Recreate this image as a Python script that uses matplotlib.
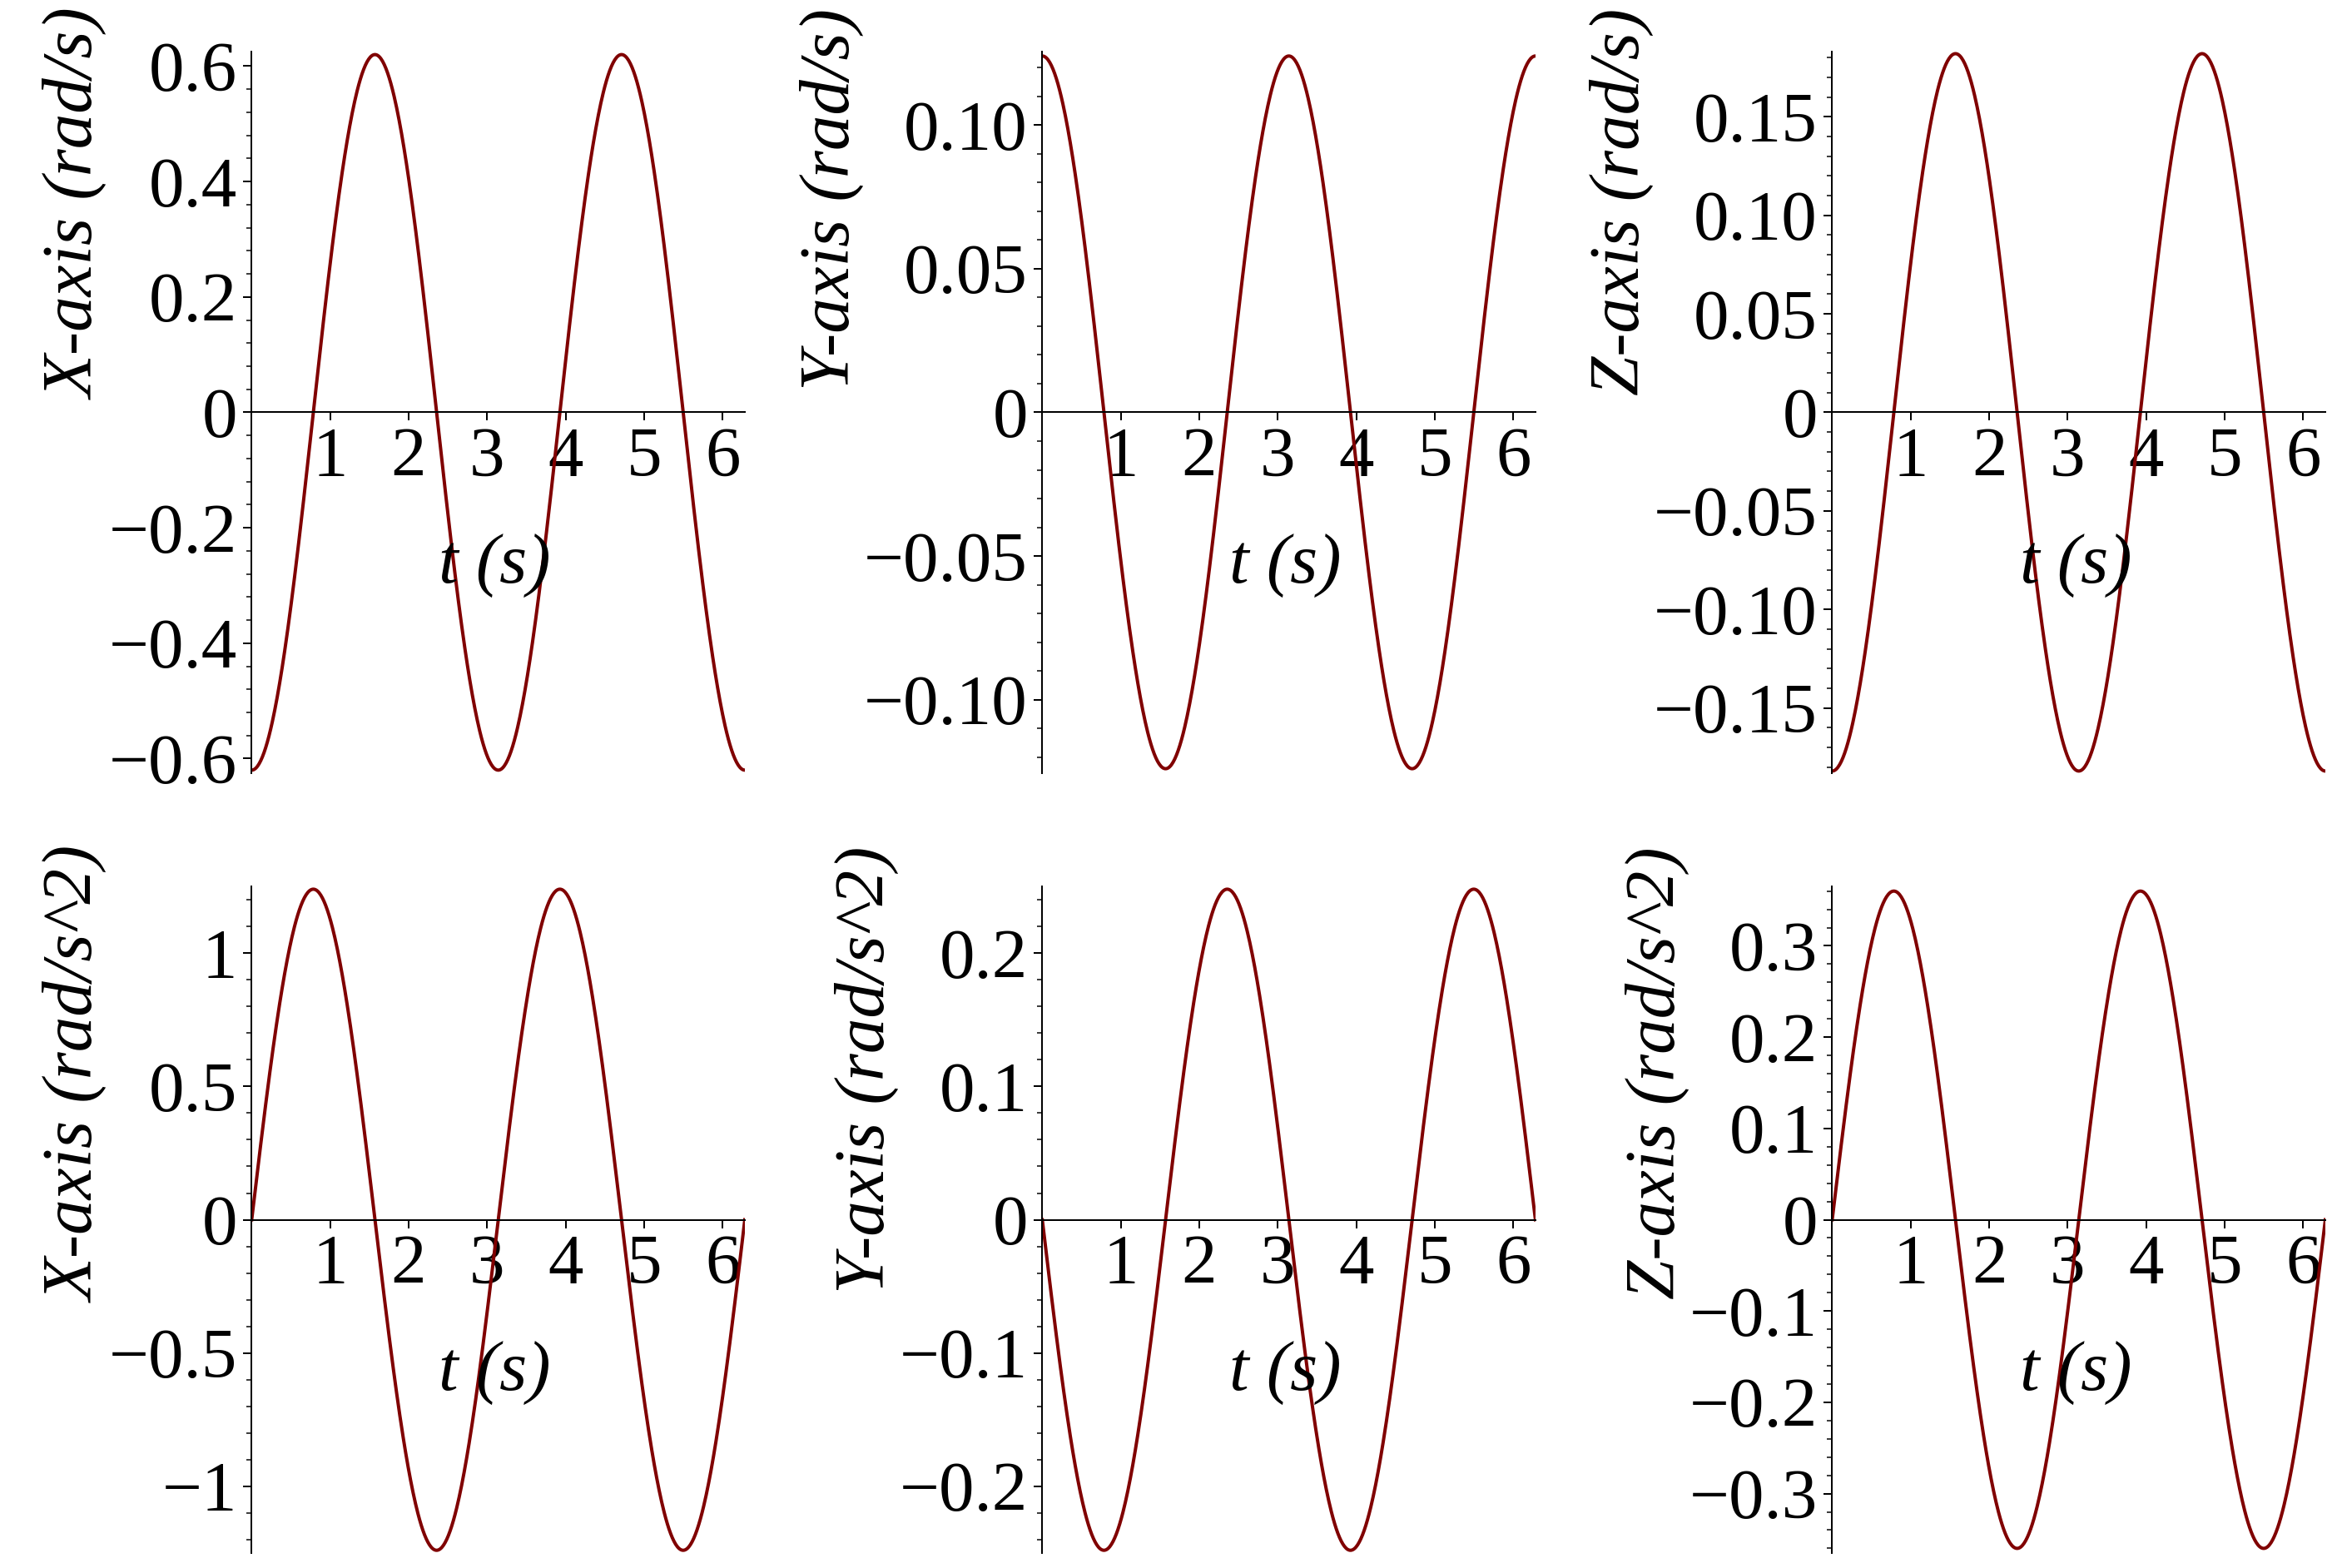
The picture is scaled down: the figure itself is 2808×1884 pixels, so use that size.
import numpy as np
import matplotlib.pyplot as plt
from matplotlib.ticker import AutoMinorLocator, FuncFormatter

plt.rcParams['font.family'] = ['Liberation Serif', 'DejaVu Serif']

# Data: sinusoidal parameters (value = amp*cos(freq*t) or amp*sin(freq*t))
ylabels = ["X-axis (rad/s)", "Y-axis (rad/s)", "Z-axis (rad/s)",
           "X-axis (rad/s^2)", "Y-axis (rad/s^2)", "Z-axis (rad/s^2)"]
amps = [-0.62, 0.124, -0.182, 1.24, -0.248, 0.36]
kinds = ["cos", "cos", "cos", "sin", "sin", "sin"]
freq = [2.0, 2.0, 2.0, 2.0, 2.0, 2.0]
ylims = [(-0.625, 0.625), (-0.1255, 0.1255), (-0.183, 0.183),
         (-1.25, 1.25), (-0.25, 0.25), (-0.365, 0.365)]
yticks = [[-0.6, -0.4, -0.2, 0, 0.2, 0.4, 0.6],
          [-0.10, -0.05, 0, 0.05, 0.10],
          [-0.15, -0.10, -0.05, 0, 0.05, 0.10, 0.15],
          [-1, -0.5, 0, 0.5, 1],
          [-0.2, -0.1, 0, 0.1, 0.2],
          [-0.3, -0.2, -0.1, 0, 0.1, 0.2, 0.3]]
ydec = [1, 2, 2, 1, 1, 1]
xticks = [1, 2, 3, 4, 5, 6]

fig = plt.figure(figsize=(15.6, 10.467), dpi=180)
lefts = [0.1077, 0.446, 0.784]
rows = [(0.507, 0.46), (0.0096, 0.425)]
t = np.linspace(0, 2 * np.pi, 600)

for i in range(6):
    r, c = divmod(i, 3)
    ax = fig.add_axes([lefts[c], rows[r][0], 0.211, rows[r][1]])
    fn = np.cos if kinds[i] == "cos" else np.sin
    ax.plot(t, amps[i] * fn(freq[i] * t), color='#800000', lw=1.6)
    ax.set_xlim(0, 2 * np.pi)
    ax.set_ylim(*ylims[i])
    for s in ['top', 'right']:
        ax.spines[s].set_visible(False)
    ax.spines['bottom'].set_position(('data', 0))
    ax.spines['left'].set_position(('data', 0))
    ax.set_xticks(xticks)
    ax.set_yticks(yticks[i])
    d = ydec[i]
    def fmt(v, p, d=d):
        if abs(v) < 1e-12:
            return "0"
        s = f"{abs(v):.{d}f}"
        if float(s) == int(float(s)):
            s = str(int(float(s)))
        return ("\u2212" + s) if v < 0 else s
    ax.yaxis.set_major_formatter(FuncFormatter(fmt))
    ax.yaxis.set_minor_locator(AutoMinorLocator(5))
    ax.tick_params(axis='both', labelsize=34, length=4, width=0.8, pad=3)
    ax.tick_params(axis='y', which='minor', length=2.5, width=0.6)
    ax.set_ylabel(ylabels[i], fontsize=34, style='italic', labelpad=0, loc='top')
    ax.yaxis.label.set_y(1.06)
    ax.annotate("t (s)", xy=(3.1, 0), xycoords='data', xytext=(0, -58),
                textcoords='offset points', ha='center', va='top',
                fontsize=34, style='italic')

fig.savefig("out.png", dpi=180)
